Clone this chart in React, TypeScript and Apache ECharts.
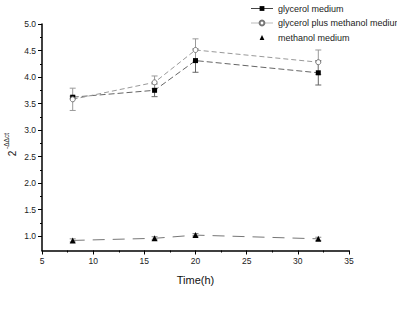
import React, { useEffect, useRef } from "react";
import * as echarts from "echarts";

// Sampling times (h)
const timeH = [8, 16, 20, 32];

// Relative expression (2^-ΔΔct) and standard deviations
const glycerol = [3.62, 3.75, 4.31, 4.08];
const glycerolErr = [0.02, 0.12, 0.22, 0.23];
const glycerolMethanol = [3.58, 3.9, 4.51, 4.28];
const glycerolMethanolErr = [0.21, 0.12, 0.21, 0.23];
const methanol = [0.92, 0.96, 1.02, 0.95];
const methanolErr = [0.03, 0.03, 0.03, 0.03];

const seriesNames = ["glycerol medium", "glycerol plus methanol medium", "methanol medium"];

// Axis ticks
const yMajorTicks = [1.0, 1.5, 2.0, 2.5, 3.0, 3.5, 4.0, 4.5, 5.0];
const yMinorTicks = [1.25, 1.75, 2.25, 2.75, 3.25, 3.75, 4.25, 4.75];

const FONT = "Liberation Sans, Arial, sans-serif";

const pairs = (ys: number[]) => timeH.map((t, i) => [t, ys[i]]);
const errRows = (ys: number[], es: number[]) =>
  timeH.map((t, i) => [t, ys[i] - es[i], ys[i] + es[i]]);

function errorBarSeries(ys: number[], es: number[], color: string) {
  return {
    type: "custom",
    silent: true,
    z: 1,
    data: errRows(ys, es),
    renderItem: (_params: any, api: any) => {
      const lo = api.coord([api.value(0), api.value(1)]);
      const hi = api.coord([api.value(0), api.value(2)]);
      const cap = 3;
      const style = { stroke: color, lineWidth: 1 };
      return {
        type: "group",
        children: [
          { type: "line", shape: { x1: lo[0], y1: lo[1], x2: hi[0], y2: hi[1] }, style },
          { type: "line", shape: { x1: lo[0] - cap, y1: lo[1], x2: lo[0] + cap, y2: lo[1] }, style },
          { type: "line", shape: { x1: hi[0] - cap, y1: hi[1], x2: hi[0] + cap, y2: hi[1] }, style },
        ],
      };
    },
  };
}

export default function App() {
  const ref = useRef<HTMLDivElement>(null);

  useEffect(() => {
    if (!ref.current) return;
    const chart = echarts.init(ref.current, undefined, { renderer: "svg" });

    const axisLabelStyle = { fontFamily: FONT, fontSize: 8.5, color: "#222" };

    chart.setOption({
      animation: false,
      backgroundColor: "#fff",
      grid: { left: 42, right: 48, top: 24, bottom: 60.5 },
      legend: {
        orient: "vertical",
        left: 250,
        top: 4,
        padding: 0,
        itemWidth: 22,
        itemHeight: 6,
        itemGap: 5.5,
        textStyle: { fontFamily: FONT, fontSize: 9, color: "#222" },
        data: [
          { name: seriesNames[0], lineStyle: { type: "solid", width: 1, color: "#444" } },
          { name: seriesNames[1], lineStyle: { type: "solid", width: 1, color: "#bbb" } },
          { name: seriesNames[2], lineStyle: { opacity: 0 } },
        ],
      },
      xAxis: {
        type: "value",
        min: 5,
        max: 35,
        interval: 5,
        name: "Time(h)",
        nameLocation: "middle",
        nameGap: 24,
        nameTextStyle: { fontFamily: FONT, fontSize: 11, color: "#111" },
        axisLine: { onZero: false, lineStyle: { color: "#000", width: 1.5 } },
        axisTick: { inside: false, length: 4, lineStyle: { color: "#000" } },
        minorTick: { show: true, splitNumber: 2, length: 2, lineStyle: { color: "#000" } },
        axisLabel: { ...axisLabelStyle, margin: 6 },
        splitLine: { show: false },
      },
      yAxis: [
        {
          type: "value",
          min: 0.73,
          max: 5,
          axisLine: { show: true, onZero: false, lineStyle: { color: "#000", width: 1.5 } },
          axisTick: { show: true, length: 4, customValues: yMajorTicks, lineStyle: { color: "#000" } },
          axisLabel: {
            ...axisLabelStyle,
            margin: 6,
            customValues: yMajorTicks,
            formatter: (v: number) => v.toFixed(1),
          },
          splitLine: { show: false },
        },
        {
          type: "value",
          min: 0.73,
          max: 5,
          position: "left",
          axisLine: { show: false },
          axisTick: { show: true, length: 2, customValues: yMinorTicks, lineStyle: { color: "#000" } },
          axisLabel: { show: false, customValues: yMinorTicks },
          splitLine: { show: false },
        },
      ],
      graphic: [
        {
          type: "text",
          x: 12,
          y: 153.5,
          rotation: Math.PI / 2,
          style: {
            text: "2",
            fontFamily: FONT,
            fontSize: 10,
            fill: "#111",
            align: "center",
            verticalAlign: "middle",
          },
        },
        {
          type: "text",
          x: 6,
          y: 141,
          rotation: Math.PI / 2,
          style: {
            text: "-ΔΔct",
            fontFamily: FONT,
            fontSize: 6.5,
            fill: "#111",
            align: "center",
            verticalAlign: "middle",
          },
        },
      ],
      series: [
        errorBarSeries(glycerol, glycerolErr, "#666"),
        errorBarSeries(glycerolMethanol, glycerolMethanolErr, "#999"),
        errorBarSeries(methanol, methanolErr, "#888"),
        {
          name: seriesNames[0],
          type: "line",
          z: 3,
          data: pairs(glycerol),
          symbol: "rect",
          symbolSize: 5,
          itemStyle: { color: "#000" },
          lineStyle: { color: "#666", width: 1, type: [6, 3] },
        },
        {
          name: seriesNames[1],
          type: "line",
          z: 3,
          data: pairs(glycerolMethanol),
          symbol: "circle",
          symbolSize: 5,
          itemStyle: { color: "#fff", borderColor: "#777", borderWidth: 1 },
          lineStyle: { color: "#999", width: 1, type: [5, 3] },
        },
        {
          name: seriesNames[2],
          type: "line",
          z: 3,
          data: pairs(methanol),
          symbol: "triangle",
          symbolSize: 6,
          itemStyle: { color: "#000" },
          lineStyle: { color: "#777", width: 1, type: [12, 8] },
        },
      ],
    });

    return () => chart.dispose();
  }, []);

  return (
    <div
      ref={ref}
      style={{ position: "fixed", left: 0, top: 0, width: 397, height: 311, background: "#fff" }}
    />
  );
}
